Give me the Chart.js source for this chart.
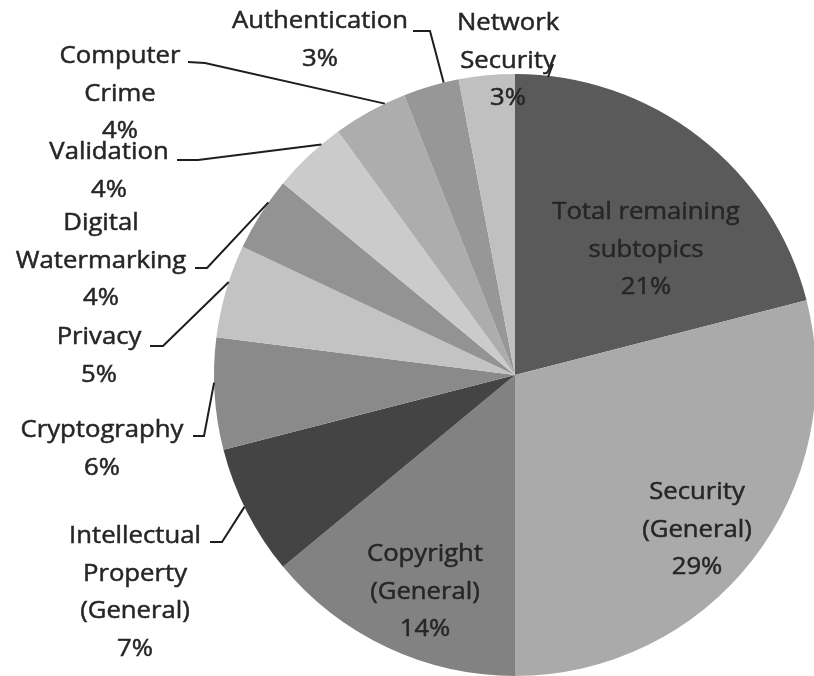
<!DOCTYPE html>
<html>
<head>
<meta charset="utf-8">
<title>Subtopic shares</title>
<script src="https://cdn.jsdelivr.net/npm/chart.js@4/dist/chart.umd.min.js"></script>
<style>
  html, body { margin: 0; padding: 0; background: #ffffff; overflow: hidden; }
  #wrap { width: 814px; height: 676px; overflow: hidden; position: relative; }
  canvas { display: block; }
</style>
</head>
<body>
<div id="wrap"><canvas id="pie" width="830" height="676"></canvas></div>
<script>
// Slices, clockwise from twelve o'clock
const categories = [
  'Total remaining subtopics', 'Security (General)', 'Copyright (General)',
  'Intellectual Property (General)', 'Cryptography', 'Privacy',
  'Digital Watermarking', 'Validation', 'Computer Crime',
  'Authentication', 'Network Security'
];
const shares = [21, 29, 14, 7, 6, 5, 4, 4, 4, 3, 3];

// How each category name is broken over lines in its label
const labelLines = [
  ['Total remaining', 'subtopics'],
  ['Security', '(General)'],
  ['Copyright', '(General)'],
  ['Intellectual', 'Property', '(General)'],
  ['Cryptography'],
  ['Privacy'],
  ['Digital', 'Watermarking'],
  ['Validation'],
  ['Computer', 'Crime'],
  ['Authentication'],
  ['Network', 'Security']
];

const sliceColors = [
  '#5a5a5a', '#aaaaaa', '#828282', '#444444', '#8a8a8a', '#c3c3c3',
  '#939393', '#cbcbcb', '#adadad', '#979797', '#c0c0c0'
];

// Label placement: centre x, first baseline y, leader polyline on the label side,
// and where along the slice's outer edge the leader ends (fraction of the arc).
const labelLayout = [
  { x: 646, y: 219 },
  { x: 697, y: 499 },
  { x: 425, y: 561 },
  { x: 135, y: 543, leader: [[210, 542], [222, 542]], t: 0.54 },
  { x: 102, y: 437, leader: [[193, 436], [204, 436]], t: 0.60 },
  { x: 99,  y: 344, leader: [[150, 346], [163, 346]], t: 0.60 },
  { x: 101, y: 230, leader: [[195, 268], [207, 268]], t: 0.68 },
  { x: 109, y: 159, leader: [[177, 160], [198, 160]], t: 0.72 },
  { x: 120, y: 63,  leader: [[188, 62],  [205, 63]],  t: 0.72 },
  { x: 320, y: 28,  leader: [[413, 31],  [430, 31]],  t: 0.73 },
  { x: 508, y: 30,  leader: [[553, 64],  [548, 77]] }
];

const LINE_HEIGHT = 37.5;
const FONT = '24px "Open Sans", "Noto Sans", sans-serif';
const TEXT_COLOR = '#262626';
const TEXT_STRETCH = 1.07;   // label face is set slightly wide

const sliceLabels = {
  id: 'sliceLabels',
  afterDatasetsDraw(chart) {
    const ctx = chart.ctx;
    const arcs = chart.getDatasetMeta(0).data;
    ctx.save();
    // leader lines
    ctx.strokeStyle = '#1e1e1e';
    ctx.lineWidth = 2;
    ctx.lineJoin = 'miter';
    labelLayout.forEach((lay, i) => {
      if (!lay.leader) return;
      ctx.beginPath();
      lay.leader.forEach((p, k) => k === 0 ? ctx.moveTo(p[0], p[1]) : ctx.lineTo(p[0], p[1]));
      if (lay.t !== undefined) {
        const a = arcs[i];
        const p = a.getProps(['x', 'y', 'startAngle', 'endAngle', 'outerRadius'], true);
        const ang = p.startAngle + lay.t * (p.endAngle - p.startAngle);
        ctx.lineTo(p.x + p.outerRadius * Math.cos(ang), p.y + p.outerRadius * Math.sin(ang));
      }
      ctx.stroke();
    });
    // text
    ctx.font = FONT;
    ctx.fillStyle = TEXT_COLOR;
    ctx.strokeStyle = TEXT_COLOR;
    ctx.lineWidth = 0.5;
    ctx.textAlign = 'center';
    ctx.textBaseline = 'alphabetic';
    labelLayout.forEach((lay, i) => {
      const lines = labelLines[i].concat([shares[i] + '%']);
      lines.forEach((txt, k) => {
        ctx.save();
        ctx.translate(lay.x, lay.y + k * LINE_HEIGHT);
        ctx.scale(TEXT_STRETCH, 1);
        ctx.fillText(txt, 0, 0);
        ctx.strokeText(txt, 0, 0);
        ctx.restore();
      });
    });
    ctx.restore();
  }
};

new Chart(document.getElementById('pie'), {
  type: 'pie',
  data: {
    labels: categories,
    datasets: [{
      data: shares,
      backgroundColor: sliceColors,
      borderWidth: 0
    }]
  },
  options: {
    responsive: false,
    devicePixelRatio: 1,
    animation: false,
    layout: { padding: { left: 214, right: 14, top: 74, bottom: 0 } },
    plugins: {
      legend: { display: false },
      tooltip: { enabled: false }
    }
  },
  plugins: [sliceLabels]
});
</script>
</body>
</html>
